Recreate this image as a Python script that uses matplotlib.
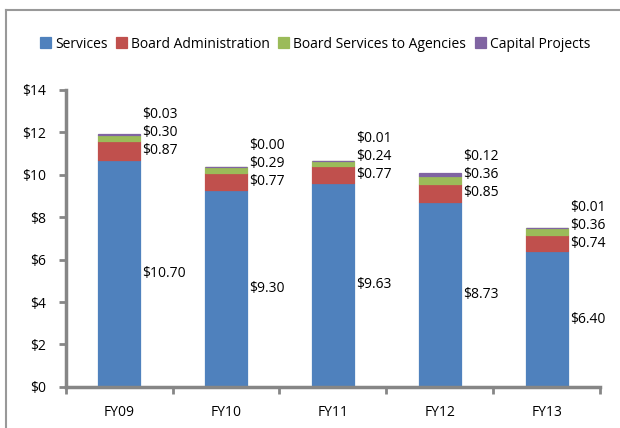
import matplotlib
matplotlib.use("Agg")
import matplotlib.pyplot as plt
from matplotlib.lines import Line2D
import numpy as np

plt.rcParams['font.family'] = ['Open Sans', 'DejaVu Sans']

categories = ["FY09", "FY10", "FY11", "FY12", "FY13"]
series_names = ["Services", "Board Administration", "Board Services to Agencies", "Capital Projects"]
services = [10.70, 9.30, 9.63, 8.73, 6.40]
board_admin = [0.87, 0.77, 0.77, 0.85, 0.74]
board_services = [0.30, 0.29, 0.24, 0.36, 0.36]
capital = [0.03, 0.00, 0.01, 0.12, 0.01]
yticks = [0, 2, 4, 6, 8, 10, 12, 14]
ytick_labels = ["$0", "$2", "$4", "$6", "$8", "$10", "$12", "$14"]
colors = ["#4F81BD", "#C0504D", "#9BBB59", "#8064A2"]

fig = plt.figure(figsize=(6.2, 4.28), dpi=100)
ax = fig.add_axes([0.106, 0.096, 0.862, 0.694])

x = np.arange(len(categories))
width = 0.39
series = [services, board_admin, board_services, capital]
bottom = np.zeros(len(categories))
handles = []
label_info = []
for vals, col, name in zip(series, colors, series_names):
    vals = np.array(vals)
    b = ax.bar(x, vals, width, bottom=bottom, color=col, edgecolor=col, linewidth=0.9,
               label=name, zorder=2)
    handles.append(b)
    label_info.append((vals, bottom.copy()))
    bottom = bottom + vals

gap = 0.85
for i in range(len(categories)):
    prev = None
    for k, (vals, bot) in enumerate(label_info):
        mid = bot[i] + vals[i] / 2
        y = mid if prev is None else max(mid, prev + gap)
        prev = y
        ax.text(x[i] + width / 2 + 0.02, y, f"${vals[i]:.2f}", ha="left", va="center",
                fontsize=10, color="black")

ax.set_xlim(-0.5, 4.5)
ax.set_ylim(0, 14)
ax.set_yticks(yticks)
ax.set_yticklabels(ytick_labels, fontsize=10)
ax.set_xticks(x)
ax.set_xticklabels(categories, fontsize=10)
ax.set_xticks(np.arange(-0.5, 5.0, 1.0), minor=True)
ax.tick_params(axis="x", which="major", length=0, pad=13)
ax.tick_params(axis="x", which="minor", length=5, width=2, color="#868686", direction="out")
ax.tick_params(axis="y", length=5, width=2, color="#868686", direction="out", pad=9)
for s in ["top", "right"]:
    ax.spines[s].set_visible(False)
for s in ["left", "bottom"]:
    ax.spines[s].set_color("#868686")
    ax.spines[s].set_linewidth(2.5)

fig.legend(handles=handles, labels=series_names, loc="center", bbox_to_anchor=(0.508, 0.897),
           ncol=4, frameon=False, fontsize=10, handlelength=0.8, handleheight=0.8,
           handletextpad=0.3, columnspacing=0.6, borderaxespad=0)

# figure border (top and left visible)
fig.add_artist(Line2D([6 / 620, 6 / 620], [0, 1 - 10 / 428], transform=fig.transFigure,
                      color="#999999", lw=1.5))
fig.add_artist(Line2D([6 / 620, 1], [1 - 10 / 428, 1 - 10 / 428], transform=fig.transFigure,
                      color="#999999", lw=1.5))

fig.savefig("out.png", dpi=100)
